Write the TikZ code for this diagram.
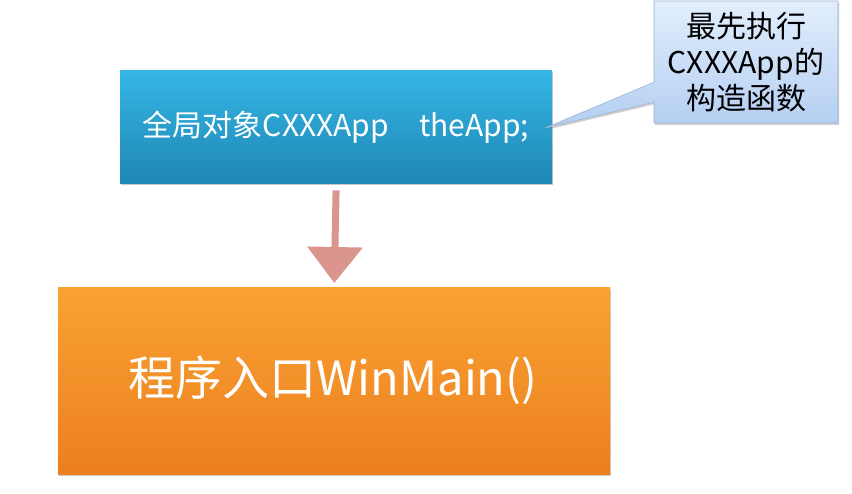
\documentclass[tikz,border=0pt]{standalone}
\usepackage{fontspec}
\setmainfont{Noto Sans CJK SC}
\usetikzlibrary{shapes.callouts,arrows.meta,shadows}
\definecolor{bluetop}{HTML}{35B6E6}
\definecolor{bluebot}{HTML}{1F87B3}
\definecolor{orgtop}{HTML}{F9A233}
\definecolor{orgbot}{HTML}{EC7F1F}
\definecolor{calltop}{HTML}{E2EEFC}
\definecolor{callbot}{HTML}{B3CEF2}
\definecolor{callline}{HTML}{9CB3D0}
\definecolor{arrowcol}{HTML}{DA968E}
\tikzset{
  boxbase/.style={rectangle, inner sep=0pt, anchor=north west, text=white,
    drop shadow={shadow xshift=1pt, shadow yshift=-2pt, opacity=0.35, fill=black!60}},
  bluebox/.style={boxbase, top color=bluetop, bottom color=bluebot,
    minimum width=432pt, minimum height=113pt},
  orangebox/.style={boxbase, top color=orgtop, bottom color=orgbot,
    minimum width=552pt, minimum height=187pt},
  bluetext/.style={text=white, font=\fontsize{30}{34}\selectfont, anchor=center, inner sep=0pt},
  orangetext/.style={text=white, font=\fontsize{47}{52}\selectfont, anchor=center, inner sep=0pt},
  callbox/.style={rectangle callout, draw=callline, line width=0.6pt,
    top color=calltop, bottom color=callbot, align=center,
    minimum width=184pt, minimum height=122pt, inner sep=0pt,
    callout pointer width=20pt,
    font=\fontsize{30}{36}\selectfont,
    drop shadow={shadow xshift=1pt, shadow yshift=-2pt, opacity=0.3, fill=black!60}},
  flowarrow/.style={draw=arrowcol, line width=7pt,
    -{Triangle[width=54pt,length=36pt,fill=arrowcol]}},
}
\begin{document}
\begin{tikzpicture}[x=1pt,y=-1pt]
\useasboundingbox[fill=white] (0,0) rectangle (852,494);
\node[bluebox] (glob) at (120,70) {};
\node[bluetext] (globtxt) at (336,127) {全局对象CXXXApp\hspace{30pt}theApp;};
\node[orangebox] (win) at (58,287) {};
\node[orangetext] (wintxt) at (333,380) {程序入口WinMain()};
\coordinate (tip) at (545,128);
\node[callbox, callout absolute pointer={(tip)}] (call) at (746,62) {最先执行\\CXXXApp的\\构造函数};
\draw[flowarrow, shorten <=7pt, shorten >=4pt] (glob.south) -- (win.north);
\end{tikzpicture}
\end{document}
